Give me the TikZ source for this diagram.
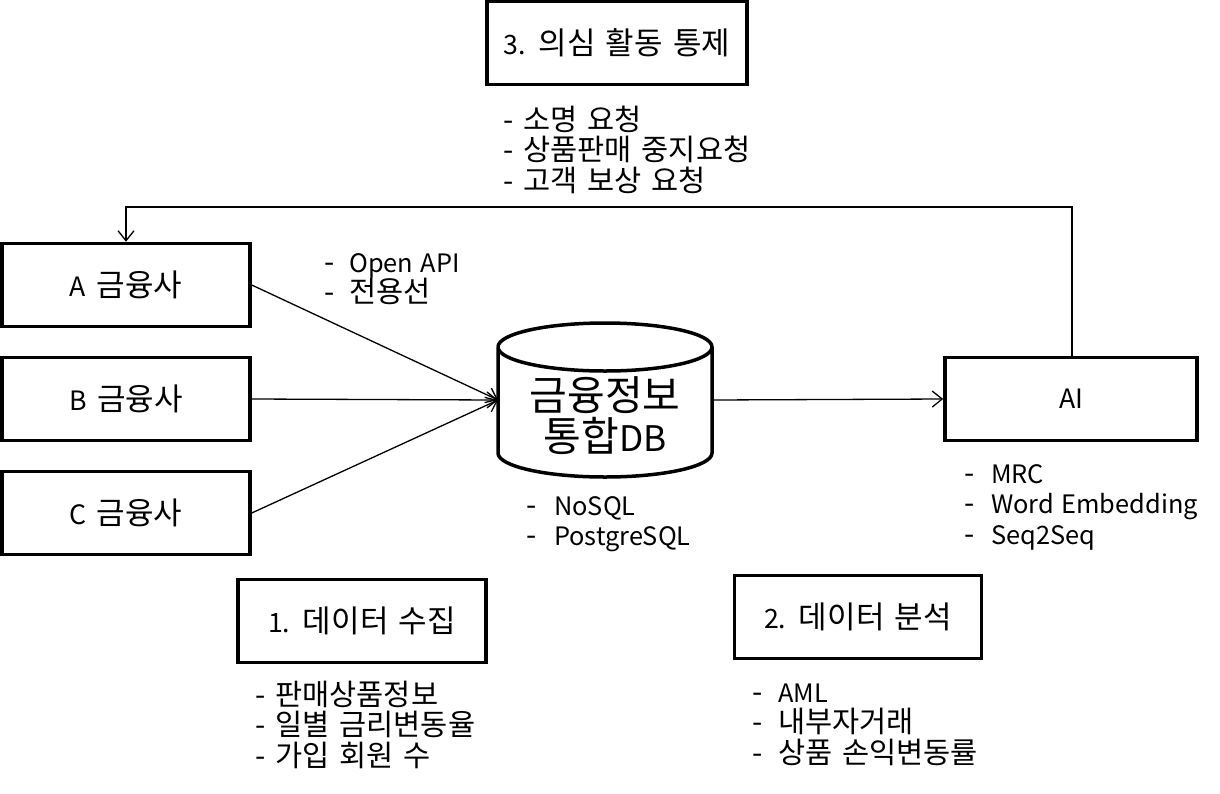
\documentclass[tikz,border=0pt]{standalone}
\usepackage{fontspec}
\setmainfont{Noto Sans CJK KR}[WordSpace=1.5]
\newfontfamily\latf{Noto Sans CJK KR}[Scale=0.86,WordSpace=1.3]
\newcommand\en[1]{{\latf #1}}
\usetikzlibrary{arrows.meta,shapes.geometric}
\begin{document}
\begin{tikzpicture}[x=1pt,y=-1pt,
  box/.style={draw,line width=3.5pt,minimum width=#1,minimum height=83pt,inner sep=0pt,font=\fontsize{31}{34}\selectfont},
  box/.default=248pt,
  conn/.style={line width=1.3pt,-{Straight Barb[length=10pt,width=16pt,line width=1.3pt]}},
  lst/.style={anchor=base west,inner sep=0pt,align=left,font=\fontsize{29.5}{30.5}\selectfont}]
\useasboundingbox (0,0) rectangle (1220,793);
\node[box=260pt] (ctl) at (617,43) {\en{3.} 의심 활동 통제};
\node[lst] (l3) at (503,191) {- 소명 요청\\- 상품판매 중지요청\\- 고객 보상 요청};
\node[box] (A) at (126,285) {\en{A} 금융사};
\node[box] (B) at (126,399) {\en{B} 금융사};
\node[box] (C) at (126,513) {\en{C} 금융사};
\node[lst] (lapi) at (324,302.5) {\makebox[25pt][l]{-}\en{Open API}\\\makebox[25pt][l]{-}전용선};
% cylinder
\coordinate (dbl) at (498,400);
\coordinate (dbr) at (712,400);
\draw[line width=3.5pt] (498,347) arc[start angle=180,end angle=-180,x radius=107,y radius=24]
  (498,347) -- (498,453) arc[start angle=180,end angle=0,x radius=107,y radius=24] -- (712,347);
\node[inner sep=0pt,align=center,font=\fontsize{41}{41}\selectfont] (db) at (605,416) {금융정보\\통합\en{DB}};
\node[lst] (ldb) at (526,545.5) {\makebox[28pt][l]{-}\en{NoSQL}\\\makebox[28pt][l]{-}\en{PostgreSQL}};
\node[box=252pt] (AI) at (1071,399) {\en{AI}};
\node[lst] (lai) at (964,544) {\makebox[27pt][l]{-}\en{MRC}\\\makebox[27pt][l]{-}\en{Word Embedding}\\\makebox[27pt][l]{-}\en{Seq2Seq}};
\node[box] (s1) at (362,621) {\en{1.} 데이터 수집};
\node[lst] (l1) at (255,766) {- 판매상품정보\\- 일별 금리변동율\\- 가입 회원 수};
\node[box=247pt] (s2) at (858,617) {\en{2.} 데이터 분석};
\node[lst] (l2) at (752,763) {\makebox[26pt][l]{-}\en{AML}\\\makebox[26pt][l]{-}내부자거래\\\makebox[26pt][l]{-}상품 손익변동률};
% connectors
\draw[conn] (A.east) -- (dbl);
\draw[conn] (B.east) -- (dbl);
\draw[conn] (C.east) -- (dbl);
\draw[conn] (dbr) -- (AI.west);
\coordinate (fb1) at (1072,207);
\coordinate (fb2) at (126,207);
\draw[conn] (AI.north -| fb1) -- (fb1) -- (fb2) -- (A.north);
\end{tikzpicture}
\end{document}
